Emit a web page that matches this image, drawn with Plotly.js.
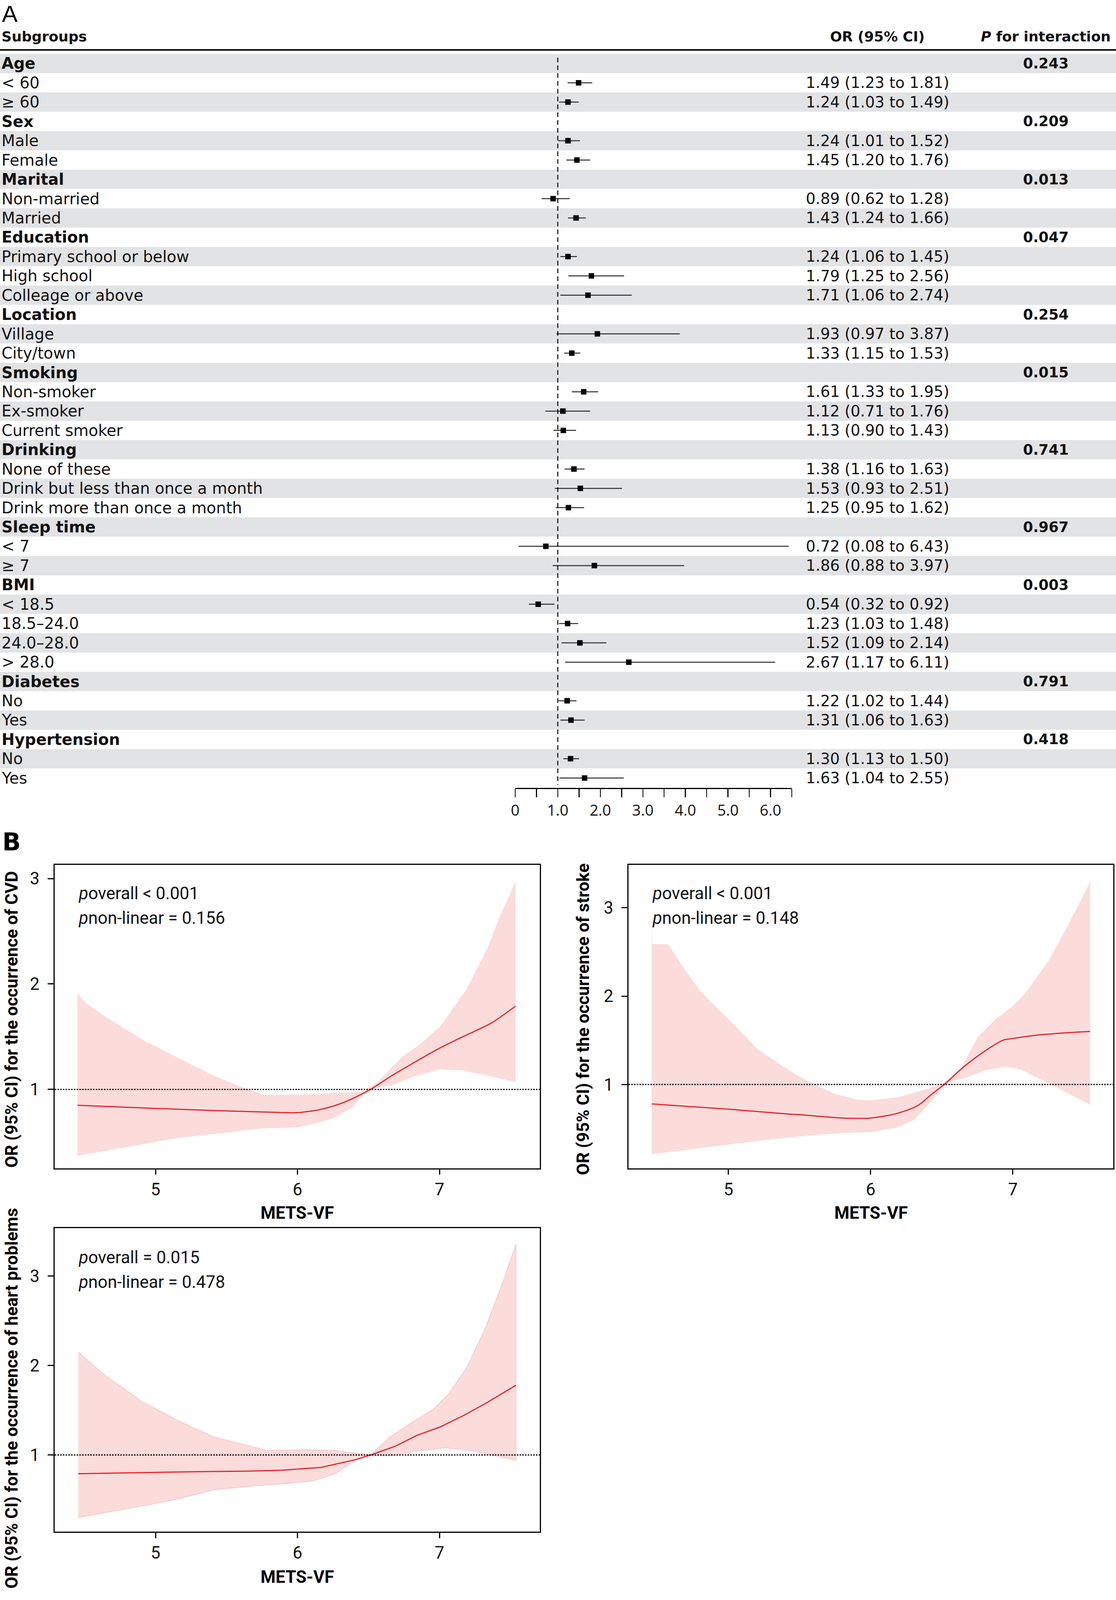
<!DOCTYPE html>
<html>
<head>
<meta charset="utf-8">
<script src="https://cdn.plot.ly/plotly-3.0.1.min.js"></script>
<style>html,body{margin:0;padding:0;background:#fff;overflow:hidden;}#chart{width:2857px;}</style>
</head>
<body>
<div id="chart"></div>
<script>
// ---------------- Panel A data ----------------
const rowLabels = ['Age','&lt; 60','≥ 60','Sex','Male','Female','Marital','Non-married','Married','Education',
  'Primary school or below','High school','Colleage or above','Location','Village','City/town','Smoking',
  'Non-smoker','Ex-smoker','Current smoker','Drinking','None of these','Drink but less than once a month',
  'Drink more than once a month','Sleep time','&lt; 7','≥ 7','BMI','&lt; 18.5','18.5–24.0','24.0–28.0','&gt; 28.0',
  'Diabetes','No','Yes','Hypertension','No','Yes'];
const pInteraction = ['0.243',null,null,'0.209',null,null,'0.013',null,null,'0.047',null,null,null,'0.254',null,null,
  '0.015',null,null,null,'0.741',null,null,null,'0.967',null,null,'0.003',null,null,null,null,'0.791',null,null,'0.418',null,null];
const orValues = [null,1.49,1.24,null,1.24,1.45,null,0.89,1.43,null,1.24,1.79,1.71,null,1.93,1.33,null,1.61,1.12,1.13,
  null,1.38,1.53,1.25,null,0.72,1.86,null,0.54,1.23,1.52,2.67,null,1.22,1.31,null,1.30,1.63];
const ciLower = [null,1.23,1.03,null,1.01,1.20,null,0.62,1.24,null,1.06,1.25,1.06,null,0.97,1.15,null,1.33,0.71,0.90,
  null,1.16,0.93,0.95,null,0.08,0.88,null,0.32,1.03,1.09,1.17,null,1.02,1.06,null,1.13,1.04];
const ciUpper = [null,1.81,1.49,null,1.52,1.76,null,1.28,1.66,null,1.45,2.56,2.74,null,3.87,1.53,null,1.95,1.76,1.43,
  null,1.63,2.51,1.62,null,6.43,3.97,null,0.92,1.48,2.14,6.11,null,1.44,1.63,null,1.50,2.55];
const forestTickVals = [0,0.5,1,1.5,2,2.5,3,3.5,4,4.5,5,5.5,6,6.5];
const forestTickText = ['0','','1.0','','2.0','','3.0','','4.0','','5.0','','6.0',''];

// ---------------- Panel B data ----------------
const cvdX = [4.451,5.0,5.411,5.912,6.0,6.163,6.313,6.414,6.514,6.664,6.815,7.0,7.165,7.366,7.536];
const cvdOR = [0.85,0.82,0.80,0.78,0.78,0.81,0.87,0.93,1.0,1.13,1.25,1.39,1.50,1.63,1.79];
const cvdUpX = [4.451,4.509,4.659,4.910,5.160,5.411,5.612,5.762,6.0,6.163,6.313,6.464,6.564,6.664,6.739,6.865,7.0,7.065,7.190,7.341,7.416,7.536];
const cvdUp = [1.91,1.82,1.68,1.47,1.30,1.13,1.02,0.95,0.95,0.96,0.97,0.98,1.07,1.21,1.31,1.43,1.59,1.71,1.95,2.35,2.61,2.97];
const cvdLoX = [4.451,4.659,4.910,5.160,5.361,5.511,5.612,5.762,6.0,6.163,6.263,6.388,6.464,6.514,6.664,6.815,7.0,7.165,7.366,7.536];
const cvdLo = [0.37,0.42,0.48,0.54,0.57,0.59,0.61,0.63,0.64,0.69,0.73,0.83,0.95,1.01,1.04,1.12,1.19,1.18,1.12,1.07];
const strokeX = [4.46,5.0,5.305,5.555,5.805,6.0,6.18,6.33,6.43,6.518,6.655,6.805,6.93,7.0,7.18,7.43,7.543];
const strokeOR = [0.78,0.72,0.68,0.65,0.62,0.62,0.67,0.76,0.89,1.0,1.20,1.38,1.50,1.52,1.56,1.59,1.60];
const strokeUpX = [4.46,4.463,4.575,4.68,4.805,5.0,5.205,5.405,5.555,5.755,5.905,6.0,6.205,6.38,6.505,6.63,6.755,6.88,7.0,7.08,7.255,7.38,7.543];
const strokeUp = [2.95,2.59,2.59,2.33,2.05,1.74,1.40,1.18,1.04,0.89,0.83,0.82,0.86,0.94,1.01,1.17,1.54,1.74,1.89,2.02,2.41,2.78,3.29];
const strokeLoX = [4.46,4.805,5.055,5.305,5.555,5.805,6.0,6.18,6.305,6.405,6.505,6.555,6.68,6.805,6.955,7.055,7.255,7.543];
const strokeLo = [0.21,0.28,0.33,0.38,0.42,0.45,0.46,0.51,0.60,0.77,0.97,1.03,1.08,1.16,1.20,1.17,1.01,0.77];
const heartX = [4.456,5.163,5.664,5.89,6.165,6.416,6.516,6.692,6.842,7.0,7.168,7.318,7.539];
const heartOR = [0.79,0.81,0.82,0.83,0.86,0.95,1.0,1.10,1.22,1.31,1.44,1.57,1.78];
const heartUpX = [4.456,4.637,4.912,5.163,5.414,5.664,5.789,6.065,6.266,6.416,6.516,6.642,6.792,6.955,7.068,7.193,7.318,7.444,7.539];
const heartUp = [2.15,1.90,1.59,1.38,1.20,1.10,1.05,1.06,1.05,1.02,1.0,1.19,1.35,1.51,1.69,1.98,2.40,2.92,3.36];
const heartLoX = [4.456,4.662,4.912,5.163,5.414,5.664,5.915,6.115,6.266,6.366,6.441,6.516,6.667,6.817,7.043,7.218,7.539];
const heartLo = [0.30,0.36,0.43,0.51,0.61,0.65,0.68,0.71,0.79,0.90,0.98,0.99,0.99,1.04,1.08,1.05,0.94];
const bTickVals = [5,6,7];
const bYTickVals = [1,2,3];

// ---------------- helpers ----------------
const W = 2857, H = 4491;
// fit the whole figure into the visible window height (all positions are fractions of the reference size)
const VH = Math.min(H, window.innerHeight || H);
const s = VH / H;
document.getElementById('chart').style.height = VH + 'px';
const px = v => v / W;
const py = v => 1 - v / H;
const FA = 'DejaVu Sans, Noto Sans, sans-serif';
const FT = 'Open Sans, Noto Sans, sans-serif';
const FB = 'Roboto, Noto Sans, sans-serif';
const FL = 'Liberation Sans, Arial, sans-serif';

const traces = [];
const shapes = [];
const annotations = [];

const nRows = rowLabels.length;
for (let i = 0; i < nRows; i++) {
  if (i % 2 === 0) {
    shapes.push({type:'rect', xref:'paper', yref:'y', x0:0, x1:1, y0:i-0.5, y1:i+0.5,
      fillcolor:'#e2e3e5', line:{width:0}, layer:'below'});
  }
  const isGroup = pInteraction[i] !== null;
  annotations.push({xref:'paper', yref:'y', x:px(2), y:i, xanchor:'left', yanchor:'middle', showarrow:false,
    text: isGroup ? '<b>' + rowLabels[i] + '</b>' : rowLabels[i], font:{family:FA, size:40, color:'#111'}});
  if (isGroup) {
    annotations.push({xref:'paper', yref:'y', x:px(2677), y:i, xanchor:'center', yanchor:'middle', showarrow:false,
      text:'<b>' + pInteraction[i] + '</b>', font:{family:FA, size:37, color:'#111'}});
  }
  if (orValues[i] !== null) {
    annotations.push({xref:'paper', yref:'y', x:px(2246), y:i, xanchor:'center', yanchor:'middle', showarrow:false,
      text: orValues[i].toFixed(2) + ' (' + ciLower[i].toFixed(2) + ' to ' + ciUpper[i].toFixed(2) + ')',
      font:{family:FA, size:39, color:'#111'}});
  }
}
const ciX = [], ciY = [], ptX = [], ptY = [];
for (let i = 0; i < nRows; i++) {
  if (orValues[i] === null) continue;
  ciX.push(ciLower[i], ciUpper[i], null); ciY.push(i, i, null);
  ptX.push(orValues[i]); ptY.push(i);
}
traces.push({type:'scatter', mode:'lines', x:ciX, y:ciY, xaxis:'x', yaxis:'y',
  line:{color:'#2a2a2a', width:2.5}, hoverinfo:'skip'});
traces.push({type:'scatter', mode:'markers', x:ptX, y:ptY, xaxis:'x', yaxis:'y',
  marker:{symbol:'square', size:14, color:'#000'}, hoverinfo:'skip'});
shapes.push({type:'line', xref:'x', yref:'y', x0:1, x1:1, y0:-0.3, y1:37.35,
  line:{color:'#000', width:2.5, dash:'12px,8px'}});
shapes.push({type:'line', xref:'paper', yref:'paper', x0:0, x1:1, y0:py(140), y1:py(140), line:{color:'#000', width:4}});
annotations.push({xref:'paper', yref:'paper', x:px(2), y:py(102), xanchor:'left', yanchor:'middle', showarrow:false,
  text:'<b>Subgroups</b>', font:{family:FA, size:36, color:'#111'}});
annotations.push({xref:'paper', yref:'paper', x:px(2246), y:py(102), xanchor:'center', yanchor:'middle', showarrow:false,
  text:'<b>OR (95% CI)</b>', font:{family:FA, size:36, color:'#111'}});
annotations.push({xref:'paper', yref:'paper', x:px(2677), y:py(102), xanchor:'center', yanchor:'middle', showarrow:false,
  text:'<b><i>P</i> for interaction</b>', font:{family:FA, size:36, color:'#111'}});
annotations.push({xref:'paper', yref:'paper', x:px(3), y:1, xanchor:'left', yanchor:'top', showarrow:false,
  text:'A', font:{family:FL, size:60, color:'#000'}});
annotations.push({xref:'paper', yref:'paper', x:px(4), y:py(2363), xanchor:'left', yanchor:'middle', showarrow:false,
  text:'<b>B</b>', font:{family:FA, size:62, color:'#000'}});

function bandTrace(upX, up, loX, lo, xa, ya, outline) {
  return {type:'scatter', mode:'lines', x: upX.concat(loX.slice().reverse()), y: up.concat(lo.slice().reverse()),
    fill:'toself', fillcolor:'#fbdcdb', line:{width: outline ? 2 : 0, color:'#f7caca'}, xaxis:xa, yaxis:ya, hoverinfo:'skip'};
}
function lineTrace(x, y, xa, ya, shape) {
  return {type:'scatter', mode:'lines', x:x, y:y, line:{color:'#e8232a', width:3, shape:shape, smoothing:0.8},
    xaxis:xa, yaxis:ya, hoverinfo:'skip'};
}
traces.push(bandTrace(cvdUpX, cvdUp, cvdLoX, cvdLo, 'x2', 'y2', false));
traces.push(lineTrace(cvdX, cvdOR, 'x2', 'y2', 'spline'));
traces.push(bandTrace(strokeUpX, strokeUp, strokeLoX, strokeLo, 'x3', 'y3', false));
traces.push(lineTrace(strokeX, strokeOR, 'x3', 'y3', 'spline'));
traces.push(bandTrace(heartUpX, heartUp, heartLoX, heartLo, 'x4', 'y4', true));
traces.push(lineTrace(heartX, heartOR, 'x4', 'y4', 'linear'));

[['x2','y2'],['x3','y3'],['x4','y4']].forEach(([xa, ya]) => {
  shapes.push({type:'line', xref: xa + ' domain', yref: ya, x0:0, x1:1, y0:1, y1:1,
    line:{color:'#000', width:3, dash:'4px,3px'}});
});

function pText(x, y1, y2, t1, t2) {
  annotations.push({xref:'paper', yref:'paper', x:px(x), y:py(y1), xanchor:'left', yanchor:'middle', showarrow:false,
    text:t1, font:{family:FB, size:44, color:'#111'}});
  annotations.push({xref:'paper', yref:'paper', x:px(x), y:py(y2), xanchor:'left', yanchor:'middle', showarrow:false,
    text:t2, font:{family:FB, size:44, color:'#111'}});
}
pText(199, 2507, 2577, '<i>p</i>overall &lt; 0.001', '<i>p</i>non-linear = 0.156');
pText(1668, 2507, 2577, '<i>p</i>overall &lt; 0.001', '<i>p</i>non-linear = 0.148');
pText(199, 3529, 3598, '<i>p</i>overall = 0.015', '<i>p</i>non-linear = 0.478');

function xTitle(cx, cy) {
  annotations.push({xref:'paper', yref:'paper', x:px(cx), y:py(cy), xanchor:'center', yanchor:'middle', showarrow:false,
    text:'<b>METS-VF</b>', font:{family:FB, size:44, color:'#000'}});
}
function yTitle(cx, cy, t) {
  annotations.push({xref:'paper', yref:'paper', x:px(cx), y:py(cy), xanchor:'center', yanchor:'middle', showarrow:false,
    textangle:-90, text:'<b>' + t + '</b>', font:{family:FB, size:44, color:'#000'}});
}
xTitle(761, 3404); xTitle(2230, 3404); xTitle(761, 4426);
yTitle(30, 2861, 'OR (95% CI) for the occurrence of CVD');
yTitle(1493, 2861, 'OR (95% CI) for the occurrence of stroke');
// in the reference this title runs past the bottom edge; keep it fully visible
yTitle(30, 3925, 'OR (95% CI) for the occurrence of heart problems');

const bx = (dom, rng, anchor) => ({domain:dom, range:rng, anchor:anchor, showline:true, mirror:true, linecolor:'#000',
  linewidth:3, ticks:'outside', ticklen:15 * s, tickwidth:3, tickcolor:'#000', tickvals:bTickVals, showgrid:false,
  zeroline:false, ticklabelstandoff:14 * s, tickfont:{family:FB, size:44, color:'#111'}, fixedrange:true});
const by = (dom, rng, anchor) => ({domain:dom, range:rng, anchor:anchor, showline:true, mirror:true, linecolor:'#000',
  linewidth:3, ticks:'outside', ticklen:15, tickwidth:3, tickcolor:'#000', tickvals:bYTickVals, showgrid:false,
  zeroline:false, ticklabelstandoff:12, tickfont:{family:FB, size:44, color:'#111'}, fixedrange:true});

const layout = {
  width:W, height:VH, margin:{l:0, r:0, t:0, b:0}, showlegend:false,
  paper_bgcolor:'#fff', plot_bgcolor:'rgba(0,0,0,0)',
  xaxis:{domain:[px(1319), px(2027)], range:[0, 6.5], anchor:'y', showline:true, linecolor:'#000', linewidth:3,
    ticks:'outside', ticklen:24 * s, tickwidth:2.5, tickcolor:'#000', tickvals:forestTickVals, ticktext:forestTickText,
    showgrid:false, zeroline:false, tickfont:{family:FT, size:39, color:'#111'}, fixedrange:true},
  yaxis:{domain:[py(2211), py(151)], range:[nRows - 0.5, -0.5], anchor:'x', showline:false, showgrid:false,
    zeroline:false, showticklabels:false, ticks:'', fixedrange:true},
  xaxis2: bx([px(140), px(1382)], [4.29, 7.707], 'y2'),
  yaxis2: by([py(3279), py(2428)], [0.253, 3.128], 'x2'),
  xaxis3: bx([px(1609), px(2850)], [4.297, 7.706], 'y3'),
  yaxis3: by([py(3279), py(2428)], [0.052, 3.484], 'x3'),
  xaxis4: bx([px(140), px(1382)], [4.29, 7.707], 'y4'),
  yaxis4: by([py(4299), py(3447)], [0.143, 3.538], 'x4'),
  shapes: shapes,
  annotations: annotations
};

Plotly.newPlot('chart', traces, layout, {displayModeBar:false, staticPlot:true});
</script>
</body>
</html>
